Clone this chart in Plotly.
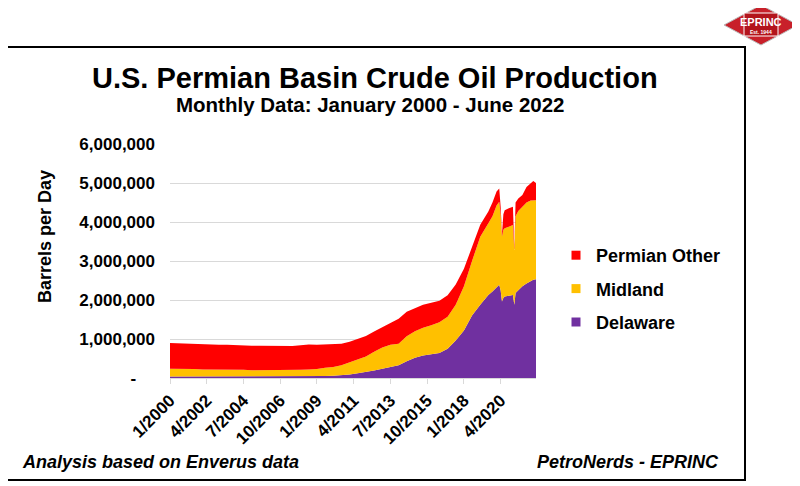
import plotly.graph_objects as go

# ---- data (thousand barrels per day, stacked layers) ----
dates = [
    "2000-01-01", "2000-07-01", "2001-01-01", "2001-07-01", "2002-01-01", "2002-07-01",
    "2003-01-01", "2003-07-01", "2004-01-01", "2004-07-01", "2005-01-01", "2005-07-01",
    "2006-01-01", "2006-07-01", "2007-01-01", "2007-07-01", "2008-01-01", "2008-07-01",
    "2009-01-01", "2009-07-01", "2010-01-01", "2010-07-01", "2011-01-01", "2011-07-01",
    "2012-01-01", "2012-07-01", "2013-01-01", "2013-07-01", "2014-01-01", "2014-07-01",
    "2015-01-01", "2015-07-01", "2016-01-01", "2016-07-01", "2017-01-01", "2017-07-01",
    "2018-01-01", "2018-07-01", "2019-01-01", "2019-07-01", "2019-10-01", "2020-01-01",
    "2020-03-01", "2020-04-01", "2020-05-01", "2020-06-01", "2020-07-01", "2020-10-01",
    "2021-01-01", "2021-02-01", "2021-03-01", "2021-05-01", "2021-08-01", "2021-11-01",
    "2022-02-01", "2022-04-01", "2022-06-01",
]
delaware = [
    40, 40, 40, 40, 35, 35, 35, 35, 35, 35, 35, 35,
    35, 35, 35, 35, 40, 40, 40, 50, 55, 70, 90, 120,
    150, 195, 240, 290, 330, 430, 520, 580, 610, 640, 750, 960,
    1220, 1600, 1880, 2130, 2220, 2320, 2390, 2250, 1960, 2050, 2090, 2110,
    2130, 1880, 2180, 2250, 2350, 2420, 2480, 2520, 2530,
]
midland = [
    200, 200, 190, 190, 185, 185, 175, 175, 175, 175, 165, 165,
    165, 165, 165, 165, 170, 180, 190, 210, 225, 260, 310, 350,
    400, 475, 540, 560, 550, 640, 680, 710, 740, 790, 820, 920,
    1130, 1400, 1740, 1840, 1930, 2100, 2130, 1950, 1670, 1750, 1750, 1770,
    1790, 1400, 1970, 2030, 2040, 2080, 2070, 2040, 2030,
]
permian_other = [
    660, 650, 650, 640, 650, 640, 640, 640, 630, 630, 630, 630,
    630, 620, 620, 620, 630, 640, 620, 600, 580, 550, 530, 530,
    530, 520, 520, 570, 640, 630, 600, 590, 580, 550, 550, 520,
    450, 350, 310, 300, 350, 360, 340, 200, 70, 400, 460, 470,
    470, 70, 350, 320, 300, 400, 450, 490, 440,
]
y_tick_values = [0, 1000000, 2000000, 3000000, 4000000, 5000000, 6000000]
y_tick_labels = ["-\u00a0\u00a0\u00a0\u00a0", "1,000,000", "2,000,000", "3,000,000",
                 "4,000,000", "5,000,000", "6,000,000"]
x_tick_values = ["2000-01-01", "2002-04-01", "2004-07-01", "2006-10-01", "2009-01-01",
                 "2011-04-01", "2013-07-01", "2015-10-01", "2018-01-01", "2020-04-01"]
x_tick_labels = ["1/2000", "4/2002", "7/2004", "10/2006", "1/2009",
                 "4/2011", "7/2013", "10/2015", "1/2018", "4/2020"]

W, H = 800, 486
OFF = 8  # page body margin
FONT = "Arial, Liberation Sans, sans-serif"

def px(x):
    return (x - OFF) / W

def py(y):
    return 1 - (y - OFF) / H

series = [
    ("Delaware", delaware, "#7030A0"),
    ("Midland", midland, "#FFC000"),
    ("Permian Other", permian_other, "#FF0000"),
]

fig = go.Figure()
for name, vals, col in series:
    fig.add_trace(go.Scatter(
        x=dates, y=[v * 1000 for v in vals], name=name, stackgroup="one",
        mode="lines", line=dict(width=0, color=col), fillcolor=col,
        showlegend=False,
    ))
# legend entries (square markers), top to bottom
for name, vals, col in reversed(series):
    fig.add_trace(go.Scatter(
        x=[None], y=[None], name=name, mode="markers",
        marker=dict(symbol="square", size=9, color=col),
        legendgroup=name, showlegend=True,
    ))

fig.update_layout(
    width=W, height=H,
    margin=dict(l=0, r=0, t=0, b=0, autoexpand=False),
    paper_bgcolor="white", plot_bgcolor="white",
    font=dict(family=FONT, color="black"),
    showlegend=True,
    legend=dict(
        x=px(556), y=py(237), xanchor="left", yanchor="top",
        font=dict(size=18, family=FONT, weight="bold"),
        traceorder="grouped", tracegroupgap=7,
        bgcolor="rgba(0,0,0,0)", itemwidth=30,
    ),
    xaxis=dict(
        type="date", domain=[px(170), px(536)],
        range=["2000-01-01", "2022-06-01"],
        tickvals=x_tick_values, ticktext=x_tick_labels,
        tickangle=-45, tickfont=dict(size=17, family=FONT, weight="bold"),
        showgrid=False, showline=True, linecolor="#d9d9d9", linewidth=1,
        ticks="outside", ticklen=5, tickcolor="#d9d9d9",
        anchor="y", automargin=False,
    ),
    yaxis=dict(
        domain=[py(378), py(144)],
        range=[0, 6000000],
        tickvals=y_tick_values, ticktext=y_tick_labels,
        tickfont=dict(size=17, family=FONT, weight="bold"),
        showgrid=True, gridcolor="#d9d9d9", gridwidth=1,
        zeroline=False, showline=False, ticks="",
        ticklabelstandoff=14, automargin=False,
    ),
    shapes=[
        dict(type="rect", xref="paper", yref="paper",
             x0=px(6), x1=px(745), y0=py(480), y1=py(47),
             line=dict(color="black", width=2), fillcolor="rgba(0,0,0,0)", layer="below"),
        dict(type="path", xref="paper", yref="paper",
             path=f"M {px(724)} {py(25)} L {px(761)} {py(5)} L {px(798)} {py(25)} L {px(761)} {py(45)} Z",
             fillcolor="#c8202a", line=dict(color="#bbbbbb", width=1)),
        dict(type="rect", xref="paper", yref="paper",
             x0=px(744), x1=px(778), y0=py(36), y1=py(13),
             fillcolor="#b3141c", line=dict(color="white", width=1)),
    ],
    annotations=[
        dict(text="U.S. Permian Basin Crude Oil Production", xref="paper", yref="paper",
             x=px(375), y=py(78), xanchor="center", yanchor="middle", showarrow=False,
             font=dict(size=29, family=FONT, weight="bold")),
        dict(text="Monthly Data: January 2000 - June 2022", xref="paper", yref="paper",
             x=px(370), y=py(104), xanchor="center", yanchor="middle", showarrow=False,
             font=dict(size=20.5, family=FONT, weight="bold")),
        dict(text="Barrels per Day", xref="paper", yref="paper",
             x=px(45), y=py(237), xanchor="center", yanchor="middle", showarrow=False,
             textangle=-90, font=dict(size=18, family=FONT, weight="bold")),
        dict(text="<i>Analysis based on Enverus data</i>", xref="paper", yref="paper",
             x=px(20), y=py(462), xanchor="left", yanchor="middle", showarrow=False,
             font=dict(size=18, family=FONT, weight="bold")),
        dict(text="<i>PetroNerds - EPRINC</i>", xref="paper", yref="paper",
             x=px(721), y=py(462), xanchor="right", yanchor="middle", showarrow=False,
             font=dict(size=18, family=FONT, weight="bold")),
        dict(text="EPRINC", xref="paper", yref="paper",
             x=px(761), y=py(22), xanchor="center", yanchor="middle", showarrow=False,
             font=dict(size=11, family=FONT, color="white", weight="bold")),
        dict(text="Est. 1944", xref="paper", yref="paper",
             x=px(761), y=py(32), xanchor="center", yanchor="middle", showarrow=False,
             font=dict(size=5, family=FONT, color="white", weight="bold")),
    ],
)

fig.write_html("out.html")
